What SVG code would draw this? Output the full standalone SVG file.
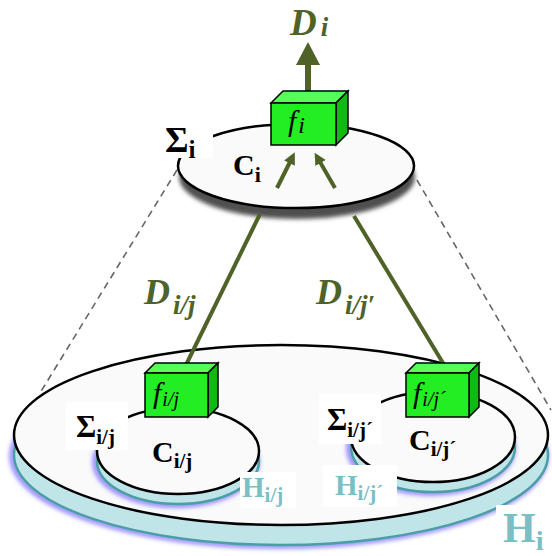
<svg xmlns="http://www.w3.org/2000/svg" width="552" height="556" viewBox="0 0 552 556">
<defs>
<filter id="blur" x="-10%" y="-10%" width="120%" height="130%"><feGaussianBlur stdDeviation="2.5"/></filter>
<filter id="sh" x="-10%" y="-20%" width="120%" height="150%"><feGaussianBlur stdDeviation="2"/></filter>
<marker id="ah" viewBox="0 0 10 10" refX="1" refY="5" markerWidth="3" markerHeight="3.2" orient="auto"><path d="M0,0 L10,5 L0,10 z" fill="#4f6228"/></marker>
</defs>
<style>
.plate{fill:#fafafa;stroke:#000;stroke-width:2.5}
.cyan{fill:#bfe5e8;stroke:#4a9ea4;stroke-width:2.5}
.glow{fill:none;stroke:#6a5cff;stroke-width:4;filter:url(#blur)}
.dash{stroke:#666;stroke-width:1.6;stroke-dasharray:7 5;fill:none}
.conn{stroke:#4f6228;stroke-width:4;fill:none}
.lbl{font-family:"Liberation Serif",serif;font-weight:bold;fill:#000}
.hl{font-family:"Liberation Serif",serif;font-weight:bold;fill:#7bbfc4}
.dl{font-family:"Liberation Serif",serif;font-weight:bold;font-style:italic;fill:#4f6228}
.fl{font-family:"Liberation Serif",serif;font-style:italic;fill:#000}
.front{fill:#22ee22;stroke:#000;stroke-width:1.5}
.top{fill:#55ff55;stroke:#000;stroke-width:1.5}
.side{fill:#14b814;stroke:#000;stroke-width:1.5}
.bg{fill:#fff}
</style>

<g id="guides">
<line class="dash" x1="177" y1="170" x2="40" y2="393"/>
<line class="dash" x1="417" y1="180" x2="551" y2="410"/>
</g>

<g id="plate-Hi">
<ellipse class="glow" cx="279" cy="456" rx="267" ry="90"/>
<ellipse class="cyan" cx="281" cy="455" rx="267" ry="90"/>
<ellipse class="plate" cx="281" cy="435" rx="267" ry="90"/>
</g>

<g id="plate-ij">
<ellipse class="glow" cx="176" cy="462" rx="81" ry="43"/>
<ellipse class="cyan" cx="178" cy="461" rx="81" ry="43"/>
<ellipse class="plate" cx="178" cy="451" rx="81" ry="43"/>
</g>

<g id="plate-ijp">
<ellipse class="glow" cx="431" cy="448" rx="82" ry="45"/>
<ellipse class="cyan" cx="433" cy="447" rx="82" ry="45"/>
<ellipse class="plate" cx="433" cy="437" rx="82" ry="45"/>
</g>

<g id="plate-i">
<ellipse cx="297" cy="177" rx="118" ry="42" fill="#505050" filter="url(#sh)"/>
<ellipse class="plate" cx="296" cy="166" rx="118" ry="42"/>
</g>

<g id="connectors">
<line class="conn" x1="260" y1="214" x2="183" y2="371"/>
<line class="conn" x1="354" y1="216" x2="446" y2="368"/>
<line class="conn" x1="277" y1="188" x2="290" y2="162" marker-end="url(#ah)"/>
<line class="conn" x1="335" y1="188" x2="320" y2="162" marker-end="url(#ah)"/>
<line stroke="#4f6228" stroke-width="6" x1="308" y1="92" x2="308" y2="62"/>
<polygon points="296,65 308,42 320,65" fill="#4f6228"/>
</g>

<g id="box-fi">
<polygon class="top" points="271,103 283,91 348,91 336,103"/>
<polygon class="side" points="336,103 348,91 348,133 336,145"/>
<rect class="front" x="271" y="103" width="65" height="42"/>
<text class="fl" x="288" y="131" font-size="30">f<tspan font-size="24" dx="2" dy="2">i</tspan></text>
</g>

<g id="box-fij">
<polygon class="top" points="145,373 155,363 218,363 208,373"/>
<polygon class="side" points="208,373 218,363 218,407 208,417"/>
<rect class="front" x="145" y="373" width="63" height="44"/>
<text class="fl" x="153" y="403" font-size="30">f<tspan font-size="20" dx="1" dy="3">i/j</tspan></text>
</g>

<g id="box-fijp">
<polygon class="top" points="406,373 416,363 479,363 469,373"/>
<polygon class="side" points="469,373 479,363 479,407 469,417"/>
<rect class="front" x="406" y="373" width="63" height="44"/>
<text class="fl" x="413" y="403" font-size="30">f<tspan font-size="20" dx="1" dy="3">i/j´</tspan></text>
</g>

<g id="labels">
<text class="dl" x="290" y="35" font-size="37">D<tspan font-size="27" dx="4" dy="1">i</tspan></text>
<text class="dl" x="144" y="304" font-size="36">D<tspan font-size="27" dx="3" dy="10">i/j</tspan></text>
<text class="dl" x="316" y="304" font-size="36">D<tspan font-size="27" dx="3" dy="10">i/j′</tspan></text>

<rect class="bg" x="160" y="124" width="53" height="34"/>
<text class="lbl" x="165" y="152" font-size="36">Σ<tspan font-size="25" dy="6">i</tspan></text>
<text class="lbl" x="233" y="175" font-size="30">C<tspan font-size="22" dy="7">i</tspan></text>

<rect class="bg" x="66" y="402" width="62" height="48"/>
<text class="lbl" x="76" y="437" font-size="31">Σ<tspan font-size="21" dy="7">i/j</tspan></text>
<text class="lbl" x="152" y="462" font-size="30">C<tspan font-size="21" dy="6">i/j</tspan></text>

<rect class="bg" x="319" y="394" width="62" height="50"/>
<text class="lbl" x="327" y="430" font-size="31">Σ<tspan font-size="21" dy="7">i/j´</tspan></text>
<text class="lbl" x="409" y="450" font-size="30">C<tspan font-size="21" dy="6">i/j´</tspan></text>

<rect class="bg" x="240" y="472" width="56" height="36"/>
<text class="hl" x="242" y="497" font-size="29">H<tspan font-size="21" dy="5">i/j</tspan></text>

<rect class="bg" x="323" y="465" width="74" height="42"/>
<text class="hl" x="335" y="495" font-size="29">H<tspan font-size="21" dy="5">i/j´</tspan></text>

<rect class="bg" x="496" y="505" width="56" height="51"/>
<text class="hl" x="503" y="542" font-size="42">H<tspan font-size="28" dy="8">i</tspan></text>
</g>
</svg>
